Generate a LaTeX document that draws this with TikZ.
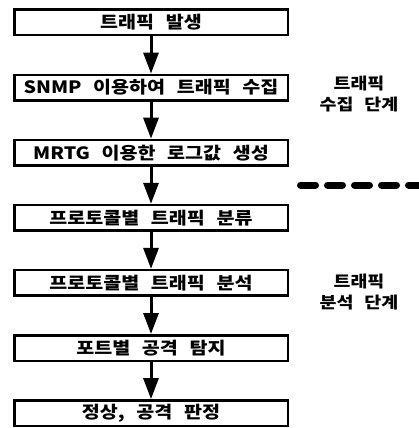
\documentclass[tikz,border=0pt]{standalone}
\usepackage{fontspec}
\setmainfont{Noto Sans CJK KR}[FakeStretch=1.15,WordSpace=2.6]
\usepackage{tikz}
\usetikzlibrary{arrows.meta}

\begin{document}
\begin{tikzpicture}[x=1pt,y=-1pt,
  stepbox/.style={draw,line width=2.5pt,minimum width=273.5pt,minimum height=25.5pt,inner sep=0pt,font=\fontsize{17}{19}\selectfont\bfseries},
  flow/.style={line width=3pt,-{Triangle[length=21pt,width=15pt]}},
  phase/.style={align=center,font=\fontsize{16}{21}\selectfont\bfseries}]
\useasboundingbox (0,0) rectangle (419,428);
% steps
\foreach \t [count=\i] in {트래픽 발생, SNMP 이용하여 트래픽 수집, MRTG 이용한 로그값 생성, 프로토콜별 트래픽 분류, 프로토콜별 트래픽 분석, 포트별 공격 탐지, {정상, 공격 판정}}{
\node[stepbox] (s\i) at (151,{22.5+65.1*(\i-1)}) {\t};
}
% arrows
\foreach \j [count=\i] in {2,...,7}{
\draw[flow] (s\i)--(s\j);
}
% phases
\node[phase] (collect) at (359,94) {트래픽\\수집 단계};
\node[phase] (analyse) at (359,292.5) {트래픽\\분석 단계};
% divider
\coordinate (d0) at (300.5,185);
\coordinate (d1) at (430,185);
\draw[line width=7pt,line cap=round,dash pattern=on 15pt off 12pt] (d0)--(d1);
\end{tikzpicture}
\end{document}
